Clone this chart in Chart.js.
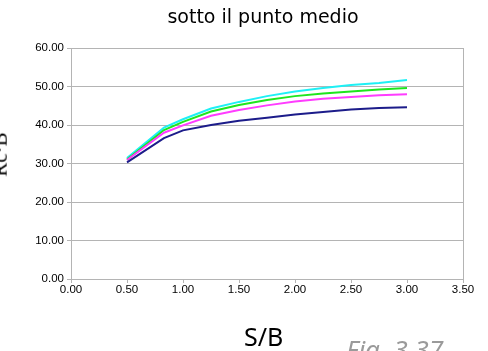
<!DOCTYPE html>
<html>
<head>
<meta charset="utf-8">
<script src="https://cdn.jsdelivr.net/npm/chart.js@4"></script>
<style>
  html, body { margin: 0; padding: 0; background: #fff; overflow: hidden; }
  #wrap { position: relative; width: 488px; height: 351px; }
  #chart { position: absolute; left: 0; top: 0; }
  .txt { position: absolute; white-space: nowrap; color: #000; }
  #title { left: 0; width: 526px; top: 5px; text-align: center; font: 19px "DejaVu Sans", sans-serif; }
  #xtitle { left: 244px; top: 319px; font: 25px "Noto Sans", sans-serif; }
  #ytitle { left: -22px; top: 142px; font: 21px "Liberation Serif", serif; transform: rotate(-90deg); }
  #fig { left: 346px; top: 331px; font: italic 26px "Noto Sans", sans-serif; color: #9a9a9a; }
</style>
</head>
<body>
<div id="wrap">
  <canvas id="chart" width="488" height="351"></canvas>
  <div class="txt" id="title">sotto il punto medio</div>
  <div class="txt" id="xtitle">S/B</div>
  <div class="txt" id="ytitle">Rc·B</div>
  <div class="txt" id="fig">Fig. 3.37</div>
</div>
<script>
const sb = [0.5, 0.83, 1.0, 1.25, 1.5, 1.75, 2.0, 2.25, 2.5, 2.75, 3.0];
const cyanVals = [31.4, 39.3, 41.5, 44.3, 46.0, 47.5, 48.7, 49.6, 50.4, 50.9, 51.7];
const greenVals = [31.0, 38.7, 40.8, 43.5, 45.2, 46.5, 47.5, 48.2, 48.7, 49.2, 49.6];
const magentaVals = [30.9, 38.0, 39.9, 42.4, 43.9, 45.1, 46.1, 46.8, 47.3, 47.7, 48.0];
const navyVals = [30.3, 36.6, 38.6, 40.0, 41.1, 41.9, 42.7, 43.4, 44.0, 44.4, 44.6];

function pts(vals) {
    return sb.map((x, i) => ({ x: x, y: vals[i] }));
}

function line(vals, color) {
    return {
        data: pts(vals),
        borderColor: color,
        borderWidth: 2,
        pointRadius: 0,
        fill: false,
        tension: 0
    };
}

// right edge of the plot box
const frame = {
    id: 'frame',
    afterDraw(c) {
        const a = c.chartArea, ctx = c.ctx;
        ctx.save();
        ctx.strokeStyle = '#b4b4b4';
        ctx.lineWidth = 1;
        ctx.beginPath();
        ctx.moveTo(Math.round(a.right) + 0.5, a.top);
        ctx.lineTo(Math.round(a.right) + 0.5, a.bottom);
        ctx.stroke();
        ctx.restore();
    }
};

const tickFont = { family: '"Liberation Sans", Arial, sans-serif', size: 11.5 };

new Chart(document.getElementById('chart'), {
    type: 'line',
    data: {
        datasets: [
            line(navyVals, '#1c1c8a'),
            line(magentaVals, '#ff3cff'),
            line(greenVals, '#1ee61e'),
            line(cyanVals, '#1ef0f5')
        ]
    },
    options: {
        responsive: false,
        animation: false,
        layout: { padding: { left: 0, top: 48, right: 25, bottom: 0 } },
        plugins: { legend: { display: false }, tooltip: { enabled: false } },
        scales: {
            x: {
                type: 'linear',
                min: 0, max: 3.5,
                ticks: { stepSize: 0.5, color: '#000', font: tickFont, padding: 0, maxRotation: 0,
                         callback: v => v.toFixed(2) },
                grid: { drawOnChartArea: false, drawTicks: true, tickLength: 4, color: '#b4b4b4' },
                border: { color: '#b4b4b4' },
                afterFit: s => { s.height = 72; }
            },
            y: {
                min: 0, max: 60,
                ticks: { stepSize: 10, color: '#000', font: tickFont, padding: 3,
                         callback: v => v.toFixed(2) },
                grid: { color: '#b4b4b4', tickLength: 4 },
                border: { color: '#b4b4b4' },
                afterFit: s => { s.width = 71; }
            }
        }
    },
    plugins: [frame]
});
</script>
</body>
</html>
